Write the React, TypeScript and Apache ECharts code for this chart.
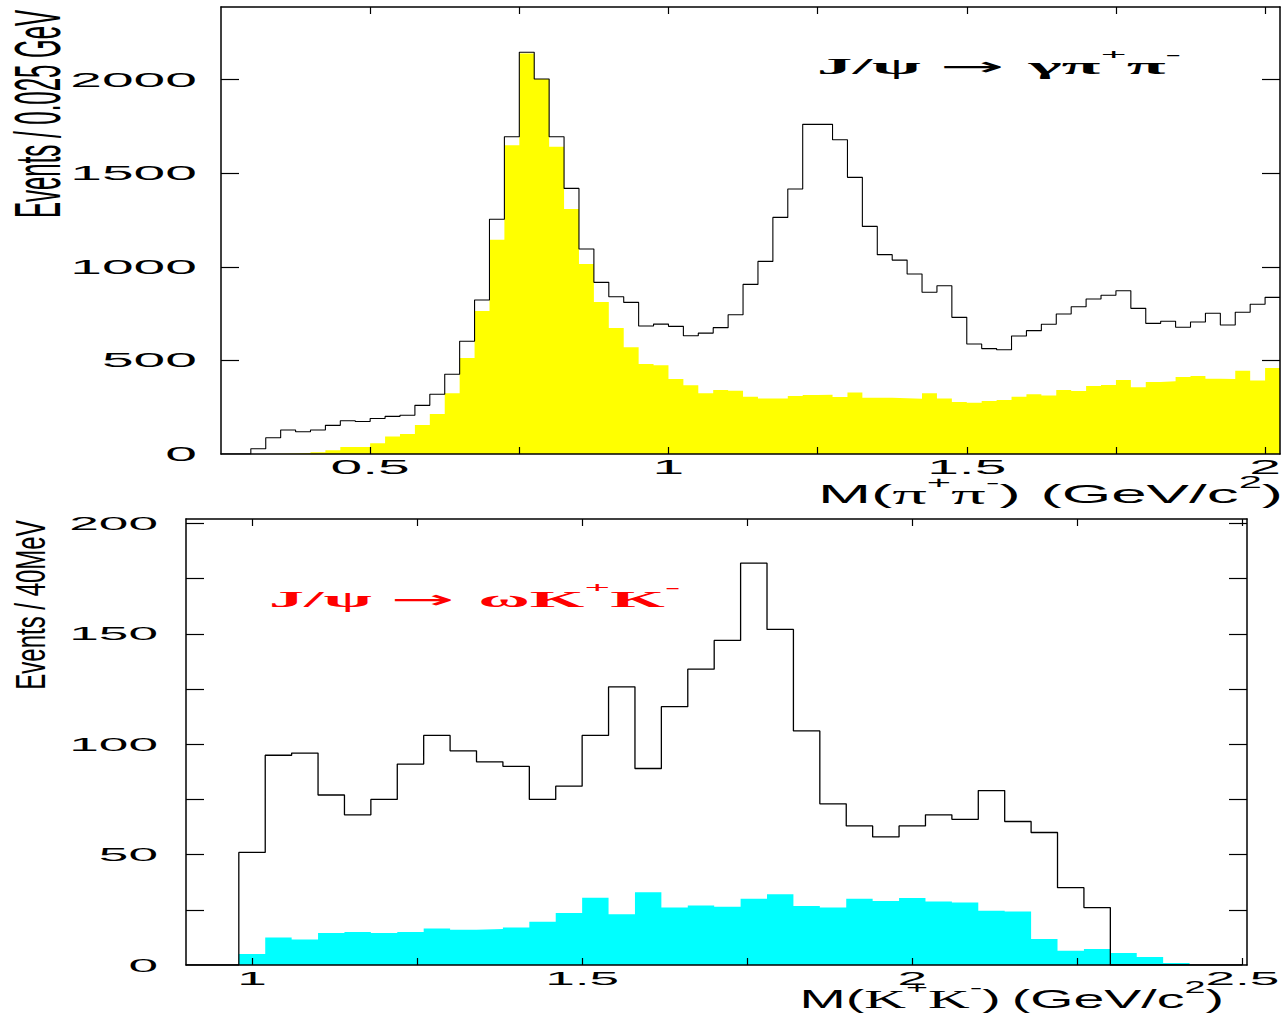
import React, { useEffect, useRef } from 'react';
import * as echarts from 'echarts';

// ---------- data: upper panel, M(pi+pi-) in bins of 0.025 GeV from 0.25 ----------
const topBinStart = 0.25;
const topBinWidth = 0.025;
const topTotal = [
  0, 0, 28, 87, 128, 119, 128, 153, 178, 174,
  190, 201, 207, 260, 319, 426, 602, 823, 1254, 1695,
  2146, 2003, 1695, 1419, 1095, 917, 840, 810, 684, 694,
  682, 632, 646, 675, 744, 906, 1029, 1264, 1416, 1761,
  1761, 1679, 1478, 1216, 1065, 1036, 962, 864, 899, 730,
  588, 563, 557, 630, 659, 693, 748, 787, 828, 848,
  872, 778, 698, 709, 677, 705, 752, 689, 757, 800,
  837,
];
const topYellow = [
  0, 0, 0, 1, 3, 5, 10, 20, 37, 37,
  57, 93, 107, 155, 214, 324, 513, 764, 1145, 1649,
  2140, 2003, 1642, 1309, 1015, 812, 673, 570, 481, 474,
  401, 367, 324, 342, 338, 306, 297, 297, 310, 315,
  317, 304, 329, 301, 301, 298, 295, 324, 297, 278,
  274, 283, 288, 306, 319, 313, 342, 337, 363, 369,
  395, 356, 385, 388, 411, 417, 402, 401, 445, 392,
  459,
];

// ---------- data: lower panel, M(K+K-) in bins of 40 MeV from 0.9 ----------
const botBinStart = 0.9;
const botBinWidth = 0.04;
const botTotal = [
  0, 0, 51, 95, 96, 77, 68, 75, 91, 104,
  97, 92, 90, 75, 81, 104, 126, 89, 117, 134,
  147, 182, 152, 106, 73, 63, 58, 63, 68, 66,
  79, 65, 60, 35, 26, 0, 0, 0, 0, 0,
];
const botCyan = [
  0, 0, 5, 12.5, 11.5, 14.5, 15, 14.5, 15, 16.5,
  16, 16.3, 17, 19.6, 23.5, 30.5, 23, 33, 26, 27,
  26.4, 30, 32, 26.7, 26, 30, 29, 30.3, 28.8, 28.3,
  24.6, 24.2, 11.8, 6.5, 7.2, 5.4, 3.6, 0.9, 0, 0,
];

// ---------- ticks and tick labels ----------
const topXTicks = [0.5, 0.75, 1, 1.25, 1.5, 1.75, 2];
const topXLabels = [0.5, 1, 1.5, 2];
const topYTicks = [500, 1000, 1500, 2000];
const topYLabels = [0, 500, 1000, 1500, 2000];
const botXTicks = [1, 1.25, 1.5, 1.75, 2, 2.25, 2.5];
const botXLabels = [1, 1.5, 2, 2.5];
const botYTicks = [25, 50, 75, 100, 125, 150, 175, 200];
const botYLabels = [0, 50, 100, 150, 200];

const SANS = "'Liberation Sans', Arial, Helvetica, sans-serif";
const SERIF = "'Liberation Serif', 'Times New Roman', serif";
const ARROW_FONT = "'DejaVu Sans', sans-serif";

function stepData(start: number, width: number, values: number[]) {
  const pts = values.map((v, i) => [Math.round((start + i * width) * 10000) / 10000, v]);
  pts.push([Math.round((start + values.length * width) * 10000) / 10000, values[values.length - 1]]);
  return pts;
}

const lineBlack = { color: '#000', width: 1.5 };

function xAx(grid: number, min: number, max: number, pos: string, ticks: number[]) {
  return {
    type: 'value', gridIndex: grid, min, max, position: pos, z: 10,
    axisLine: { show: true, onZero: false, lineStyle: lineBlack },
    axisTick: { show: true, inside: true, length: 7, customValues: ticks, lineStyle: { color: '#000', width: 1.2 } },
    axisLabel: { show: false, customValues: ticks },
    splitLine: { show: false },
  };
}
function yAx(grid: number, min: number, max: number, pos: string, ticks: number[]) {
  return {
    type: 'value', gridIndex: grid, min, max, position: pos, z: 10,
    axisLine: { show: true, onZero: false, lineStyle: lineBlack },
    axisTick: { show: true, inside: true, length: 18, customValues: ticks, lineStyle: { color: '#000', width: 1.2 } },
    axisLabel: { show: false, customValues: ticks },
    splitLine: { show: false },
  };
}

function buildOption() {
  return {
    animation: false,
    backgroundColor: '#fff',
    grid: [
      { left: 221, top: 7, width: 1059, height: 447, outerBoundsMode: 'none' },
      { left: 186, top: 519, width: 1061, height: 446, outerBoundsMode: 'none' },
    ],
    xAxis: [
      xAx(0, 0.25, 2.025, 'bottom', topXTicks),
      xAx(0, 0.25, 2.025, 'top', topXTicks),
      xAx(1, 0.9, 2.507, 'bottom', botXTicks),
      xAx(1, 0.9, 2.507, 'top', botXTicks),
    ],
    yAxis: [
      yAx(0, 0, 2388, 'left', topYTicks),
      yAx(0, 0, 2388, 'right', topYTicks),
      yAx(1, 0, 202, 'left', botYTicks),
      yAx(1, 0, 202, 'right', botYTicks),
    ],
    series: [
      {
        type: 'line', xAxisIndex: 0, yAxisIndex: 0, step: 'end', symbol: 'none', silent: true, z: 2,
        data: stepData(topBinStart, topBinWidth, topYellow),
        lineStyle: { width: 0, opacity: 0 }, areaStyle: { color: '#ffff00', opacity: 1 },
      },
      {
        type: 'line', xAxisIndex: 0, yAxisIndex: 0, step: 'end', symbol: 'none', silent: true, z: 3,
        data: stepData(topBinStart, topBinWidth, topTotal),
        lineStyle: { color: '#000', width: 1.1 },
      },
      {
        type: 'line', xAxisIndex: 2, yAxisIndex: 2, step: 'end', symbol: 'none', silent: true, z: 2,
        data: stepData(botBinStart, botBinWidth, botCyan),
        lineStyle: { width: 0, opacity: 0 }, areaStyle: { color: '#00ffff', opacity: 1 },
      },
      {
        type: 'line', xAxisIndex: 2, yAxisIndex: 2, step: 'end', symbol: 'none', silent: true, z: 3,
        data: stepData(botBinStart, botBinWidth, botTotal),
        lineStyle: { color: '#000', width: 1.3 },
      },
    ],
  };
}

function buildGraphic(chart: any) {
  const els: any[] = [];
  const X = (ai: number, v: number) => chart.convertToPixel({ xAxisIndex: ai }, v) as number;
  const Y = (ai: number, v: number) => chart.convertToPixel({ yAxisIndex: ai }, v) as number;
  const tick = (x: number, y: number, text: string, align: string, size: number, sx: number) => ({
    type: 'text', x, y, scaleX: sx, silent: true,
    style: { text, fontFamily: SANS, fontSize: size, fill: '#000', align, verticalAlign: 'middle', textAlign: align, textVerticalAlign: 'middle' },
  });
  topYLabels.forEach((v) => els.push(tick(197, Y(0, v), String(v), 'right', 20, 2.85)));
  topXLabels.forEach((v) => els.push(tick(X(0, v), 467, String(v), 'center', 20, 2.85)));
  botYLabels.forEach((v) => els.push(tick(158, Y(2, v), String(v), 'right', 19, 2.8)));
  botXLabels.forEach((v) => els.push(tick(X(2, v), 978, String(v), 'center', 19, 2.8)));

  // axis titles (x)
  const xTitleRich = (fs: number, gfs: number, gap: number) => ({
    s: { fontFamily: SANS, fontSize: fs, fill: '#000', lineHeight: 40 },
    s2: { fontFamily: SANS, fontSize: fs, fill: '#000', lineHeight: 40, padding: [0, 0, 0, gap] },
    g: { fontFamily: SERIF, fontSize: gfs, fill: '#000', lineHeight: 40 },
    sp: { fontFamily: SANS, fontSize: 17, fill: '#000', lineHeight: 12, verticalAlign: 'top' },
  });
  els.push({
    type: 'text', x: 1283, y: 494, scaleX: 2.45, silent: true,
    style: {
      text: '{s|M(}{g|π}{sp|+}{g|π}{sp|-}{s|)}{s2|(GeV/c}{sp|2}{s|)}',
      align: 'right', verticalAlign: 'middle', textAlign: 'right', textVerticalAlign: 'middle',
      rich: xTitleRich(26, 28, 8),
    },
  });
  els.push({
    type: 'text', x: 1224, y: 999, scaleX: 2.22, silent: true,
    style: {
      text: '{s|M(}{g|K}{sp|+}{g|K}{sp|-}{s|)}{s2|(GeV/c}{sp|2}{s|)}',
      align: 'right', verticalAlign: 'middle', textAlign: 'right', textVerticalAlign: 'middle',
      rich: xTitleRich(25, 26, 5),
    },
  });

  // axis titles (y), rotated
  els.push({
    type: 'text', x: 37, y: 114, rotation: Math.PI / 2, scaleY: 2.7, silent: true,
    style: { text: 'Events / 0.025 GeV', fontFamily: SANS, fontSize: 24, fill: '#000', align: 'center', verticalAlign: 'middle', textAlign: 'center', textVerticalAlign: 'middle' },
  });
  els.push({
    type: 'text', x: 30, y: 605, rotation: Math.PI / 2, scaleY: 1.75, silent: true,
    style: { text: 'Events / 40MeV', fontFamily: SANS, fontSize: 24, fill: '#000', align: 'center', verticalAlign: 'middle', textAlign: 'center', textVerticalAlign: 'middle' },
  });

  // reaction annotations
  const annRich = (color: string, fs: number) => ({
    m: { fontFamily: SERIF, fontWeight: 'bold', fontSize: fs, fill: color, lineHeight: 40 },
    ar: { fontFamily: ARROW_FONT, fontSize: 25, fill: color, lineHeight: 40, padding: [0, 8, 0, 6] },
    sp: { fontFamily: SERIF, fontWeight: 'bold', fontSize: 15, fill: color, lineHeight: 18, verticalAlign: 'top' },
  });
  els.push({
    type: 'text', x: 817, y: 66, scaleX: 3.08, silent: true,
    style: {
      text: '{m|J/ψ}{ar|→}{m|γπ}{sp|+}{m|π}{sp|-}',
      align: 'left', verticalAlign: 'middle', textAlign: 'left', textVerticalAlign: 'middle',
      rich: annRich('#000', 23),
    },
  });
  els.push({
    type: 'text', x: 269, y: 599.5, scaleX: 3.05, silent: true,
    style: {
      text: '{m|J/ψ}{ar|→}{m|ωK}{sp|+}{m|K}{sp|-}',
      align: 'left', verticalAlign: 'middle', textAlign: 'left', textVerticalAlign: 'middle',
      rich: annRich('#ff0000', 23),
    },
  });
  return els;
}

export default function App() {
  const ref = useRef<HTMLDivElement>(null);
  useEffect(() => {
    const el = ref.current!;
    const chart = echarts.init(el, null, { renderer: 'svg' });
    chart.setOption(buildOption() as any);
    chart.setOption({ graphic: buildGraphic(chart) } as any);
    return () => chart.dispose();
  }, []);
  return (
    <div
      ref={ref}
      style={{ position: 'absolute', left: 0, top: 0, width: 1287, height: 1026, background: '#fff' }}
    />
  );
}
